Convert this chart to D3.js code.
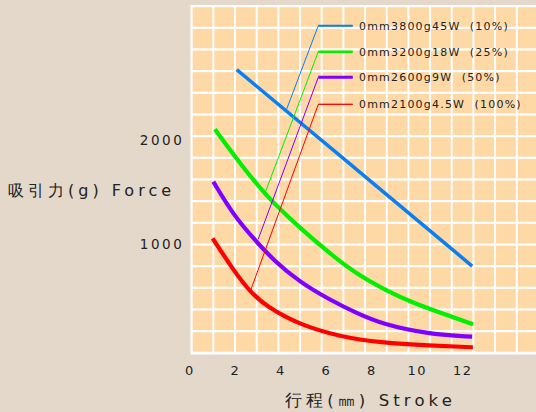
<!DOCTYPE html>
<html><head><meta charset="utf-8">
<script src="https://cdn.jsdelivr.net/npm/d3@7/dist/d3.min.js"></script>
<style>
html,body{margin:0;padding:0;background:#e4d8cb;}
svg{display:block;}
text{font-family:"DejaVu Sans",sans-serif;fill:#222;}
</style></head><body>
<svg id="c" width="536" height="412"></svg>
<script>
// ---- data (stroke in mm, force in g) ----
const seriesNames = ["0mm3800g45W  (10%)", "0mm3200g18W  (25%)", "0mm2600g9W  (50%)", "0mm2100g4.5W  (100%)"];
const seriesColors = ["#0a7ff0", "#00f000", "#8000ff", "#ff0000"];
const blueX = [2.1, 7.2, 12.46];
const blueY = [2676, 1750, 788];
const greenX = [1.14, 2.24, 3.42, 4.74, 6.21, 7.38, 8.7, 9.87, 11.34, 12.5];
const greenY = [2103, 1776, 1455, 1183, 905, 710, 550, 432, 317, 228];
const purpleX = [1.07, 1.95, 2.9, 3.71, 4.89, 6.21, 7.38, 8.55, 10.61, 12.46];
const purpleY = [1599, 1279, 1038, 846, 630, 462, 334, 225, 130, 109];
const redX = [1.04, 1.95, 2.68, 3.42, 4.89, 6.65, 8.41, 10.61, 12.49];
const redY = [1055, 750, 541, 397, 221, 109, 51, 22, 7];
// leader-line targets on each curve (stroke, force)
const leaderX = [4.3, 3.38, 3.05, 2.72];
const leaderY = [2298, 1510, 1048, 558];
const xTicks = [0, 2, 4, 6, 8, 10, 12];
const yTicks = [1000, 2000];
const xTitle = "行程(㎜) Stroke";
const yTitle = "吸引力(g) Force";

const svg = d3.select("#c");
const x = d3.scaleLinear().domain([0, 12]).range([189, 461.7]);
const y = d3.scaleLinear().domain([0, 1000]).range([348, 244]);

// decorative grid (cells)
const gx = d3.scaleLinear().domain([0, 1]).range([191.7, 213.37]);
const gy = d3.scaleLinear().domain([0, 1]).range([6, 27.67]);
svg.append("rect").attr("x", 190.5).attr("y", 5).attr("width", 346).attr("height", 349.5).attr("fill", "#ffffff");
const cells = [];
for (let i = 0; i < 16; i++) for (let j = 0; j < 16; j++) cells.push([i, j]);
svg.append("g").selectAll("rect").data(cells).join("rect")
  .attr("x", d => gx(d[0]) + 1).attr("y", d => gy(d[1]) + 1.2)
  .attr("width", d => Math.min(gx(d[0] + 1) - 1, 537) - gx(d[0]) - 1)
  .attr("height", d => gy(d[1] + 1) - gy(d[1]) - 2.2)
  .attr("fill", "#fed8a5");

// curves
const line = d3.line().x(d => x(d[0])).y(d => y(d[1])).curve(d3.curveBasis);
const series = [
  {xs: blueX, ys: blueY, w: 3.5},
  {xs: greenX, ys: greenY, w: 4.2},
  {xs: purpleX, ys: purpleY, w: 4.2},
  {xs: redX, ys: redY, w: 4.2}
];
series.forEach((s, i) => {
  svg.append("path").datum(s.xs.map((v, k) => [v, s.ys[k]]))
    .attr("d", line).attr("fill", "none").attr("stroke", seriesColors[i])
    .attr("stroke-width", s.w).attr("stroke-linecap", "butt");
});

// legend with leader lines
const legY = [25.7, 51.7, 77.3, 104.3];
const legW = [2, 2.5, 3, 1];
seriesNames.forEach((n, i) => {
  svg.append("path")
    .attr("d", `M${x(leaderX[i])},${y(leaderY[i])}L318.3,${legY[i]}L352.7,${legY[i]}`)
    .attr("fill", "none").attr("stroke", seriesColors[i]).attr("stroke-width", 1);
  svg.append("line").attr("x1", 318.3).attr("x2", 352.7).attr("y1", legY[i]).attr("y2", legY[i])
    .attr("stroke", seriesColors[i]).attr("stroke-width", legW[i]);
  svg.append("text").attr("x", 359).attr("y", legY[i] + 4).attr("font-size", 11)
    .attr("letter-spacing", "1.2px").style("white-space", "pre").text(n);
});

// axes ticks
svg.append("g").selectAll("text").data(xTicks).join("text")
  .attr("x", d => x(d) + 1).attr("y", 375).attr("text-anchor", "middle")
  .attr("font-size", 13).attr("letter-spacing", "1.5px").text(d => d);
svg.append("g").selectAll("text").data(yTicks).join("text")
  .attr("x", 184.5).attr("y", d => y(d) + 5).attr("text-anchor", "end")
  .attr("font-size", 13.5).attr("letter-spacing", "2.6px").text(d => d);

// titles
svg.append("text").attr("x", 8).attr("y", 196).attr("font-size", 16)
  .attr("letter-spacing", "4px").style("white-space", "pre").text(yTitle);
svg.append("text").attr("x", 285).attr("y", 406).attr("font-size", 16.5)
  .attr("letter-spacing", "4.1px").style("white-space", "pre").text(xTitle);
</script>
</body></html>
